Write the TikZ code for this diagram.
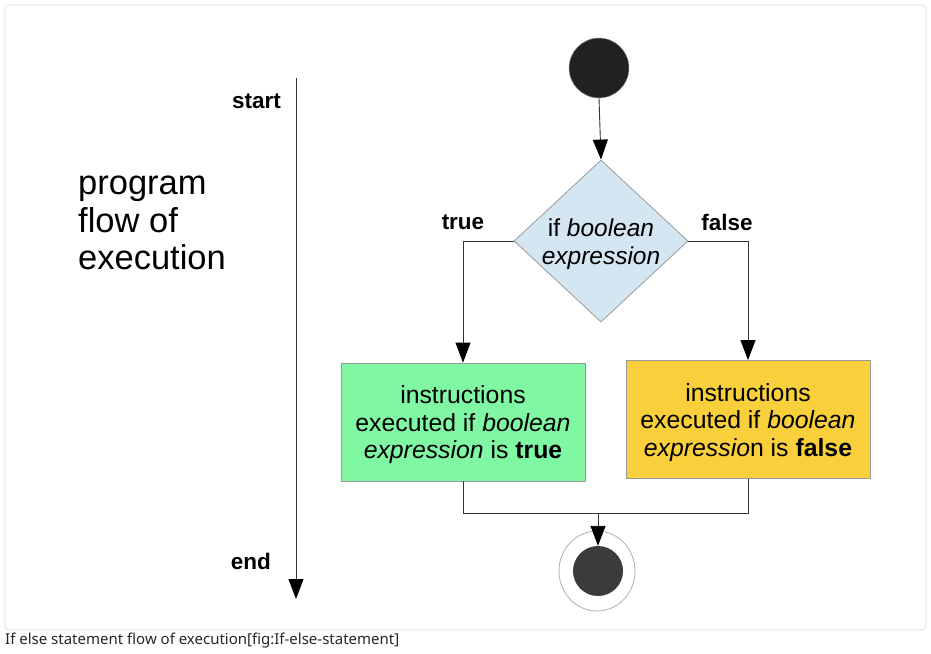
\documentclass[tikz,border=0pt]{standalone}
\usepackage{fontspec}
\setmainfont{Liberation Sans}
\newfontfamily\capfont{Noto Sans}
\usetikzlibrary{arrows.meta,shapes.geometric,positioning}
\definecolor{boxgreen}{HTML}{80F7A3}
\definecolor{boxyellow}{HTML}{F9D03C}
\definecolor{diamblue}{HTML}{D4E6F2}
\definecolor{edgegray}{HTML}{9A9A9A}
\definecolor{framegray}{HTML}{DDDDDD}
\definecolor{linegray}{HTML}{333333}
\begin{document}
\begin{tikzpicture}[x=1pt,y=-1pt,
  txt/.style={font=\fontsize{24.8}{27.5}\selectfont, align=center},
  lbl/.style={font=\fontsize{22.5}{26}\selectfont\bfseries},
  actbox/.style={rectangle, draw=edgegray, line width=0.8pt, minimum width=244pt, minimum height=118pt, inner sep=0pt, txt},
  flow/.style={draw=linegray, line width=0.9pt},
  arr/.style={flow, -{Triangle[length=20pt,width=15pt,color=black]}},
]
\useasboundingbox (0,0) rectangle (931,653);
\draw[framegray, line width=0.8pt, rounded corners=4pt] (5,5) rectangle (926,630);
\node[anchor=west, font=\capfont\fontsize{15}{18}\selectfont, text=black!85, inner sep=0pt] (cap) at (5,641) {If else statement flow of execution[fig:If-else-statement]};

% timeline
\node[font=\fontsize{34.5}{37.5}\selectfont, align=left, anchor=north west, inner sep=0pt] (pf) at (78,176) {program\\flow of\\execution};
\coordinate (tl0) at (296,78);
\coordinate (tl1) at (296,599);
\draw[arr] (tl0) -- (tl1);
\node[lbl, anchor=east, inner sep=0pt] (st) at (281,101) {start};
\node[lbl, anchor=east, inner sep=0pt] (en) at (271,561) {end};

% flow
\node[circle, fill=black!87, draw=edgegray, line width=0.5pt, minimum size=60pt, inner sep=0pt] (s) at (599,68) {};
\node[diamond, fill=diamblue, draw=edgegray, line width=0.8pt, minimum width=174pt, minimum height=162pt, inner sep=0pt, align=center, font=\fontsize{24.5}{28}\selectfont] (d) at (601,241) {};
\node[align=center, font=\fontsize{24.5}{28}\selectfont, inner sep=0pt] (dt) at (601,244) {if \textit{boolean}\\\textit{expression}};
\node[actbox, fill=boxgreen] (t) at (463,422) {};
\node[txt, inner sep=0pt] (tt) at (463,425) {instructions\\executed if \textit{boolean}\\\textit{expression} is \textbf{true}};
\node[actbox, fill=boxyellow] (f) at (748,419.5) {};
\node[txt, inner sep=0pt] (ft) at (748,422.5) {instructions\\executed if \textit{boolean}\\\textit{expressio}n is \textbf{false}};
\node[ellipse, draw=edgegray!80, line width=0.8pt, minimum width=76pt, minimum height=80pt, inner sep=0pt] (e) at (597,571) {};
\node[circle, fill=black!77, minimum size=50pt, inner sep=0pt] (ei) at (598,571) {};
\coordinate (m) at (598,513);

\node[lbl, inner sep=0pt] (tl) at (463,222) {true};
\node[lbl, inner sep=0pt] (fl) at (727,222) {false};

\draw[arr] (s.south) -- (d.north);
\draw[arr] (d.west) -| (t.north);
\draw[arr] (d.east) -| (f.north);
\draw[flow] (t.south) |- (m);
\draw[flow] (f.south) |- (m);
\draw[arr] (m) -- (ei.north);
\end{tikzpicture}
\end{document}
